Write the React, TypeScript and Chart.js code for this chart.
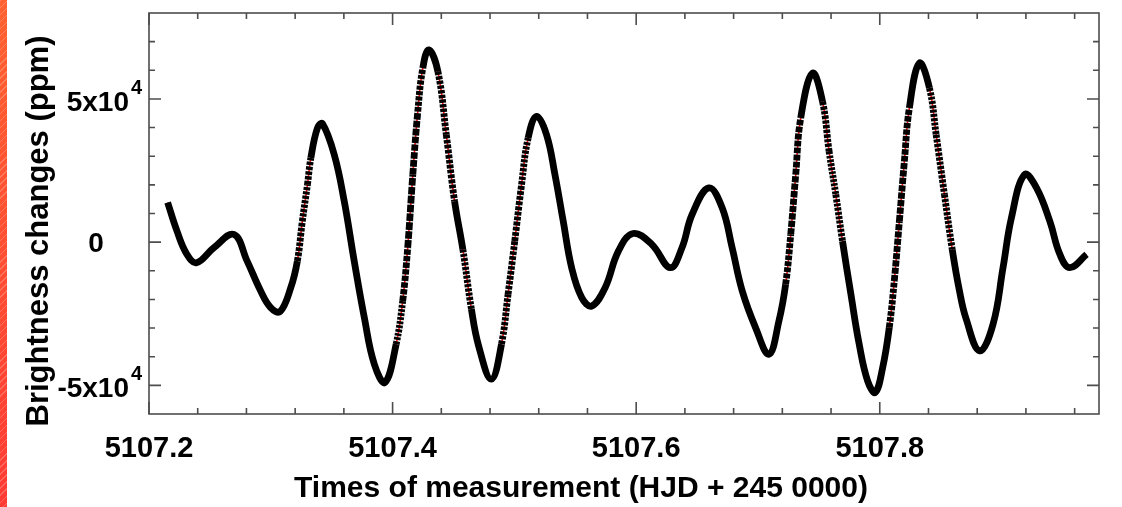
import React, { useEffect, useRef } from 'react';
import { Chart, registerables } from 'chart.js';

Chart.register(...registerables);

// ---- data ----
const timesHJD = [
  5107.2153, 5107.2230, 5107.2312, 5107.2390, 5107.2532, 5107.2697, 5107.2806, 5107.2917, 5107.2999, 5107.3076,
  5107.3164, 5107.3218, 5107.3259, 5107.3301, 5107.3329, 5107.3383, 5107.3424, 5107.3521, 5107.3603, 5107.3685,
  5107.3768, 5107.3850, 5107.3938, 5107.4029, 5107.4083, 5107.4124, 5107.4166, 5107.4207, 5107.4248, 5107.4297,
  5107.4372, 5107.4441, 5107.4509, 5107.4577, 5107.4647, 5107.4707, 5107.4811, 5107.4894, 5107.4948, 5107.5003,
  5107.5059, 5107.5113, 5107.5182, 5107.5264, 5107.5333, 5107.5401, 5107.5470, 5107.5553, 5107.5635, 5107.5745,
  5107.5854, 5107.5975, 5107.6129, 5107.6280, 5107.6376, 5107.6459, 5107.6596, 5107.6706, 5107.6788, 5107.6871,
  5107.6980, 5107.7090, 5107.7172, 5107.7227, 5107.7269, 5107.7310, 5107.7351, 5107.7447, 5107.7530, 5107.7584,
  5107.7639, 5107.7694, 5107.7763, 5107.7831, 5107.7900, 5107.7963, 5107.8024, 5107.8078, 5107.8119, 5107.8161,
  5107.8202, 5107.8243, 5107.8325, 5107.8408, 5107.8463, 5107.8531, 5107.8595, 5107.8652, 5107.8710, 5107.8820,
  5107.8930, 5107.9012, 5107.9081, 5107.9188, 5107.9287, 5107.9396, 5107.9479, 5107.9561, 5107.9698,
];

const brightnessPpm = [
  13830, 3830, -4290, -7180, -1950, 2680, -6620, -17070, -22860, -24250,
  -15890, -6620, 7320, 20100, 29400, 39860, 41360, 30550, 14280, -6620,
  -26340, -42610, -48990, -35640, -20560, -1950, 23590, 45640, 60760, 67140,
  59580, 37520, 14280, -2540, -23340, -36340, -47840, -35640, -18220, 350,
  20100, 36370, 43900, 37520, 23590, 7320, -8920, -19370, -22300, -15890,
  -3140, 3030, -800, -8920, -1950, 9650, 18950, 11980, -1950, -17070,
  -29820, -39130, -27520, -14740, 2680, 23590, 43340, 59020, 49120, 31700,
  16620, 350, -18220, -35640, -48430, -52470, -43760, -29820, -13590, 7320,
  28220, 46820, 62500, 53790, 37520, 16620, -2540, -16480, -26930, -37980,
  -28670, -8920, 8500, 23590, 18950, 7320, -4290, -8920, -4290,
];

const xMajorTicks = [5107.2, 5107.4, 5107.6, 5107.8];
const xTickLabels = ['5107.2', '5107.4', '5107.6', '5107.8'];
const xMinorTicks = [
  5107.24, 5107.28, 5107.32, 5107.36, 5107.44, 5107.48, 5107.52, 5107.56,
  5107.64, 5107.68, 5107.72, 5107.76, 5107.84, 5107.88, 5107.92, 5107.96,
];
const yMajorTicks = [-50000, 0, 50000];
const yTickLabels = ['-5x10^4', '0', '5x10^4'];
const yMinorTicks = [-40000, -30000, -20000, -10000, 10000, 20000, 30000, 40000, 60000, 70000];

const xTitle = 'Times of measurement (HJD + 245 0000)';
const yTitle = 'Brightness changes (ppm)';

const X_MIN = 5107.2;
const X_MAX = 5107.98;
const Y_MIN = -60000;
const Y_MAX = 80000;

const SAMPLE_DAYS = 0.00051; // spacing of the measured samples -> dot spacing on steep parts
const DOT_THRESHOLD = 4.0;
const GAP_PX = 1.3;
const FONT = '"Liberation Sans", Arial, Helvetica, sans-serif';

const axesPlugin = {
  id: 'idlAxes',
  afterDraw(chart: any) {
    const { ctx, chartArea: a } = chart;
    const xs = chart.scales.x;
    const ys = chart.scales.y;
    ctx.save();
    ctx.setLineDash([]);
    ctx.lineCap = 'butt';
    ctx.strokeStyle = '#4d4d4d';
    ctx.lineWidth = 1.6;
    ctx.beginPath();
    xs.ticks.forEach((t: any) => {
      const p = xs.getPixelForValue(t.value);
      const len = xMajorTicks.includes(t.value) ? 12 : 6;
      ctx.moveTo(p, a.bottom);
      ctx.lineTo(p, a.bottom - len);
      ctx.moveTo(p, a.top);
      ctx.lineTo(p, a.top + len);
    });
    ys.ticks.forEach((t: any) => {
      const p = ys.getPixelForValue(t.value);
      const len = yMajorTicks.includes(t.value) ? 12 : 6;
      ctx.moveTo(a.left, p);
      ctx.lineTo(a.left + len, p);
      ctx.moveTo(a.right, p);
      ctx.lineTo(a.right - len, p);
    });
    ctx.stroke();
    ctx.strokeRect(a.left, a.top, a.right - a.left, a.bottom - a.top);

    ctx.fillStyle = '#000';
    ctx.font = `bold 29px ${FONT}`;
    ctx.textAlign = 'center';
    ctx.textBaseline = 'alphabetic';
    xMajorTicks.forEach((v, i) => {
      ctx.fillText(xTickLabels[i], xs.getPixelForValue(v), a.bottom + 43);
    });

    yMajorTicks.forEach((v, i) => {
      const p = ys.getPixelForValue(v);
      const [base, exp] = yTickLabels[i].split('^');
      if (exp) {
        ctx.font = `bold 28px ${FONT}`;
        ctx.textAlign = 'right';
        ctx.fillText(base, a.left - 20, p + 12);
        ctx.font = `bold 20px ${FONT}`;
        ctx.textAlign = 'left';
        ctx.fillText(exp, a.left - 18, p - 5);
      } else {
        ctx.font = `bold 28px ${FONT}`;
        ctx.textAlign = 'center';
        ctx.fillText(base, a.left - 53, p + 10);
      }
    });

    ctx.font = `bold 30px ${FONT}`;
    ctx.textAlign = 'center';
    ctx.fillText(xTitle, 581, a.bottom + 83);
    ctx.save();
    ctx.translate(48, 231);
    ctx.rotate(-Math.PI / 2);
    ctx.font = `bold 31px ${FONT}`;
    ctx.fillText(yTitle, 0, 0);
    ctx.restore();
    ctx.restore();
  },
};

function segmentSpacing(c: any) {
  const dxPix = Math.abs(c.p1.x - c.p0.x);
  const dyPix = Math.abs(c.p1.y - c.p0.y);
  const dxVal = Math.abs(timesHJD[c.p1DataIndex] - timesHJD[c.p0DataIndex]) || 1e-9;
  const pxPerDay = dxPix / dxVal;
  const s = dyPix / (dxPix || 1e-9);
  return pxPerDay * SAMPLE_DAYS * Math.sqrt(1 + s * s);
}

export default function App() {
  const canvasRef = useRef<HTMLCanvasElement | null>(null);

  useEffect(() => {
    if (!canvasRef.current) return;
    const points = timesHJD.map((t, i) => ({ x: t, y: brightnessPpm[i] }));
    const chart = new Chart(canvasRef.current, {
      type: 'line',
      data: {
        datasets: [
          {
            label: 'observed',
            data: points,
            borderColor: '#000',
            borderWidth: 6.8,
            pointRadius: 0,
            tension: 0.4,
            borderCapStyle: 'butt',
            borderJoinStyle: 'round',
            fill: false,
            segment: {
              borderDash: (c: any) => {
                const sp = segmentSpacing(c);
                return sp > DOT_THRESHOLD ? [Math.max(sp - GAP_PX, 1), GAP_PX] : [];
              },
            },
          } as any,
          {
            label: 'fit',
            data: points,
            borderColor: '#ff1010',
            borderWidth: 1.6,
            pointRadius: 0,
            tension: 0.4,
            fill: false,
          } as any,
        ],
      },
      options: {
        responsive: false,
        animation: false,
        layout: { padding: { left: 149, right: 23, top: 13, bottom: 93 } },
        plugins: { legend: { display: false }, tooltip: { enabled: false } },
        events: [],
        scales: {
          x: {
            type: 'linear',
            min: X_MIN,
            max: X_MAX,
            ticks: { display: false },
            grid: { display: false, drawTicks: false },
            border: { display: false },
            afterBuildTicks: (scale: any) => {
              scale.ticks = [...xMajorTicks, ...xMinorTicks].sort((p, q) => p - q).map((v) => ({ value: v }));
            },
          },
          y: {
            type: 'linear',
            min: Y_MIN,
            max: Y_MAX,
            ticks: { display: false },
            grid: { display: false, drawTicks: false },
            border: { display: false },
            afterBuildTicks: (scale: any) => {
              scale.ticks = [...yMajorTicks, ...yMinorTicks].sort((p, q) => p - q).map((v) => ({ value: v }));
            },
          },
        },
      },
      plugins: [axesPlugin],
    } as any);
    return () => chart.destroy();
  }, []);

  return (
    <div style={{ position: 'absolute', left: 0, top: 0, width: 1122, height: 507, background: '#fff', overflow: 'hidden' }}>
      <canvas ref={canvasRef} width={1122} height={507} style={{ display: 'block' }} />
      <div
        style={{
          position: 'absolute',
          left: 0,
          top: 0,
          width: 7,
          height: 507,
          background:
            'repeating-linear-gradient(135deg, rgba(255,255,255,0.22) 0px, rgba(255,255,255,0.22) 1px, rgba(255,255,255,0) 1px, rgba(255,255,255,0) 5px), linear-gradient(to bottom, #ff6230, #ff3b33)',
        }}
      />
    </div>
  );
}
